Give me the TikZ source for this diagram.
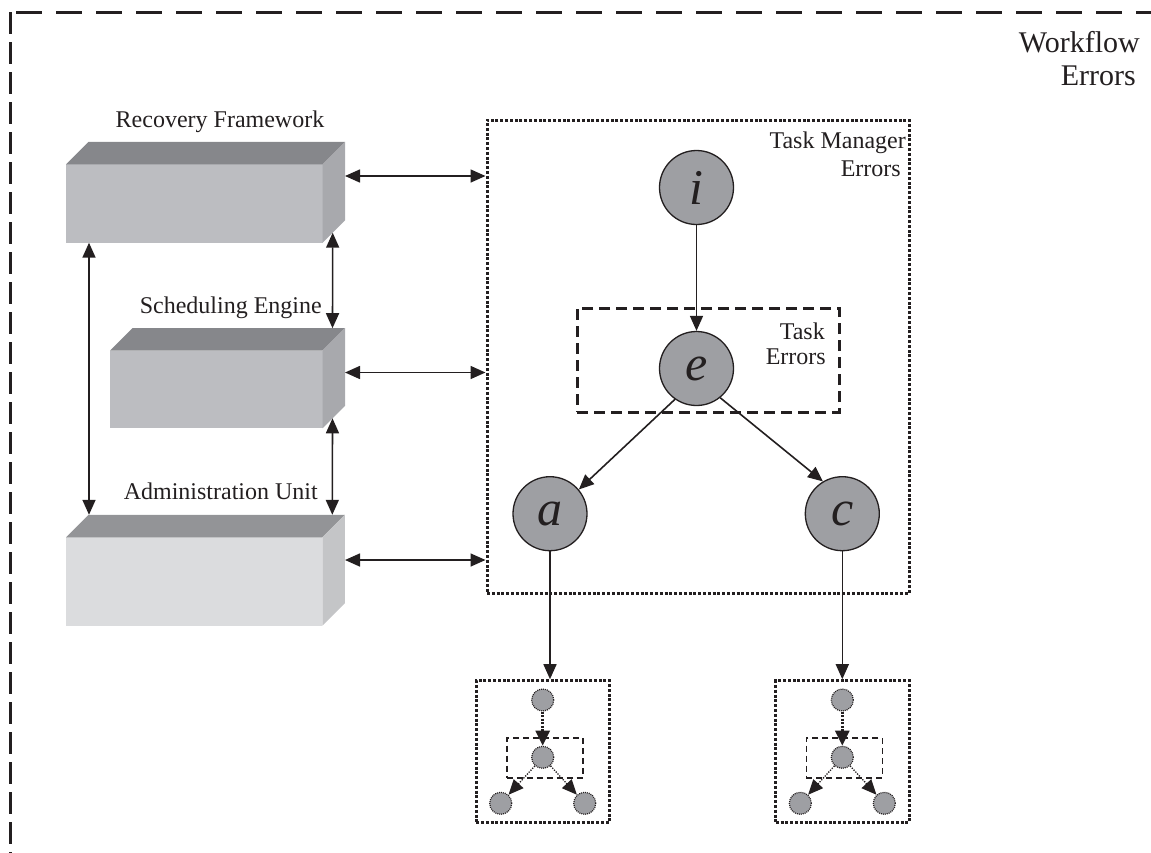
\documentclass[tikz,border=0pt]{standalone}
\usepackage{fontspec}
\setmainfont{Liberation Serif}
\usetikzlibrary{arrows.meta,calc}

\definecolor{ink}{RGB}{35,31,32}
\definecolor{nodegray}{RGB}{158,159,163}
% darker slabs (Recovery Framework, Scheduling Engine)
\definecolor{slabfront}{RGB}{188,189,193}
\definecolor{slabtop}{RGB}{134,135,139}
\definecolor{slabside}{RGB}{168,169,173}
% lighter slab (Administration Unit)
\definecolor{paleFront}{RGB}{219,220,222}
\definecolor{paleTop}{RGB}{147,148,151}
\definecolor{paleSide}{RGB}{196,197,199}

% 3-D slab: front face node plus its top and right faces
\newcommand\slabfaces[3]{%
  \fill[#2] (#1.north west) -- ++(22.5,-22.5) -- ($(#1.north east)+(22.5,-22.5)$) -- (#1.north east) -- cycle;
  \fill[#3] (#1.north east) -- ++(22.5,-22.5) -- ($(#1.south east)+(22.5,-22.5)$) -- (#1.south east) -- cycle;
}

\begin{document}
\begin{tikzpicture}[x=1pt,y=-1pt,
  >={Triangle[length=15pt,width=13pt]},
  conn/.style={draw=ink,line width=1.6pt},
  lbl/.style={font=\fontsize{24}{28}\selectfont,text=ink,inner sep=0pt},
  biglbl/.style={font=\fontsize{30}{34}\selectfont,text=ink,inner sep=0pt},
  slab/.style={rectangle,inner sep=0pt,outer sep=0pt,fill=#1},
  errnode/.style={circle,draw=ink,line width=1.3pt,fill=nodegray,minimum size=74pt,
    inner sep=0pt,font=\fontsize{50}{50}\selectfont\itshape,text=ink},
  tmbox/.style={rectangle,draw=ink,line width=3pt,dash pattern=on 3pt off 1.8pt,inner sep=0pt},
  tebox/.style={rectangle,draw=ink,line width=3pt,dash pattern=on 11pt off 6pt,inner sep=0pt},
  minibox/.style={rectangle,draw=ink,line width=3pt,dash pattern=on 3pt off 1.8pt,inner sep=0pt},
  minidash/.style={rectangle,draw=ink,line width=1.6pt,dash pattern=on 6pt off 4pt,inner sep=0pt},
  minidot/.style={circle,fill=nodegray,draw=ink,line width=1.2pt,dash pattern=on 1pt off 1pt,
    minimum size=22pt,inner sep=0pt},
  minithick/.style={draw=ink,line width=2.6pt,dash pattern=on 2pt off 1.5pt,
    >={Triangle[length=15pt,width=14pt]}},
  minithin/.style={draw=ink,line width=1.3pt,dash pattern=on 1.3pt off 1.3pt,
    >={Triangle[length=15pt,width=13pt]}},
  pics/minigraph/.style={code={
    \node[minibox,minimum width=133.5pt,minimum height=141.6pt] (-box) at (0.25,51.5) {};
    \node[minidash,minimum width=76pt,minimum height=40pt] (-frame) at (2,57.7) {};
    \node[minidot] (-top) at (0,0) {};
    \node[minidot] (-mid) at (0,57.3) {};
    \node[minidot] (-left) at (-42,103.3) {};
    \node[minidot] (-right) at (42,103.3) {};
    \draw[minithick,->] (-top) -- (-mid);
    \draw[minithin,->] (-mid) -- (-left);
    \draw[minithin,->] (-mid) -- (-right);
  }}
]
\useasboundingbox (0,0) rectangle (1151,852);

% outer workflow frame (runs off the right and bottom edges)
\coordinate (wf-corner) at (10.5,12.3);
\draw[ink,line width=3.2pt,dash pattern=on 21.7pt off 8.3pt] (wf-corner) -- (10.5,870);
\draw[ink,line width=3pt,dash pattern=on 25.7pt off 14.3pt,dash phase=34.5pt] (wf-corner) -- (1170,12.3);
\node[biglbl,anchor=base east] (wf1) at (1140,52) {Workflow};
\node[biglbl,anchor=base east] (wf2) at (1136,85) {Errors};

% the three system components
\node[slab=slabfront,minimum width=256.7pt,minimum height=78.4pt] (rf) at (194.35,203.5) {};
\slabfaces{rf}{slabtop}{slabside}
\node[slab=slabfront,minimum width=212.5pt,minimum height=77.6pt] (se) at (216.25,389.5) {};
\slabfaces{se}{slabtop}{slabside}
\node[slab=paleFront,minimum width=256.3pt,minimum height=88.4pt] (au) at (194.15,581.5) {};
\slabfaces{au}{paleTop}{paleSide}

\node[lbl,anchor=base] (lrf) at (220,127) {Recovery Framework};
\node[lbl,anchor=base east] (lse) at (322,313) {Scheduling Engine};
\node[lbl,anchor=base east] (lau) at (318,499) {Administration Unit};

% task manager region
\node[tmbox,minimum width=422pt,minimum height=473pt] (tm) at (698,356.5) {};
\node[lbl,anchor=base east] (tm1) at (906,148) {Task Manager};
\node[lbl,anchor=base east] (tm2) at (901,176) {Errors};

% task region
\node[tebox,minimum width=262pt,minimum height=104pt] (te) at (708,360) {};
\node[lbl,anchor=base east] (te1) at (825,339) {Task};
\node[lbl,anchor=base east] (te2) at (826,364) {Errors};

% links between components
\coordinate (rf-port) at (345,176);
\coordinate (se-port) at (345,372.5);
\coordinate (au-port) at (345,560);
\draw[conn,<->] (rf-port) -- (rf-port -| tm.west);
\draw[conn,<->] (se-port) -- (se-port -| tm.west);
\draw[conn,<->] (au-port) -- (au-port -| tm.west);
\draw[conn,<->] ($(rf.south west)+(23,0)$) -- ($(au.north west)+(23,-22.5)$);
\draw[conn,<->] ($(rf.south east)+(10,-10)$) -- ($(se.north east)+(10,-22.5)$);
\draw[conn,<->] ($(se.south east)+(10,-10)$) -- ($(au.north east)+(10,-22.5)$);

% error nodes
\node[errnode] (i) at (696.5,187.5) {i};
\node[errnode] (e) at (696.5,368.5) {e};
\node[errnode] (a) at (550,513.7) {a};
\node[errnode] (c) at (842.3,513.7) {c};
\draw[conn,->] (i) -- (e);
\draw[conn,->] (e.235) -- (a.40);
\draw[conn,->] (e.309) -- (c.121);

% nested sub-workflows
\pic (g1) at (542.7,700) {minigraph};
\pic (g2) at (842.3,700) {minigraph};
\draw[conn,->] (a) -- (a |- g1-box.north);
\draw[conn,->] (c) -- (c |- g2-box.north);
\end{tikzpicture}
\end{document}
